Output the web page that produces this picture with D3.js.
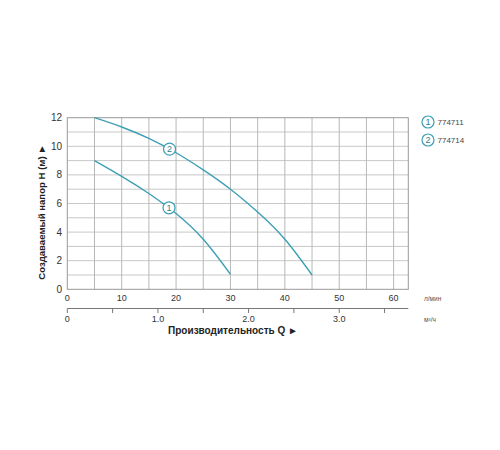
<!DOCTYPE html>
<html>
<head>
<meta charset="utf-8">
<script src="https://d3js.org/d3.v7.min.js"></script>
<style>
body { margin: 0; background: #fff; }
svg text { font-family: "Liberation Sans", Arial, sans-serif; }
</style>
</head>
<body>
<svg width="500" height="450"></svg>
<script>
// flow l/min , head m
var pump1Q = [5, 10, 15, 20, 25, 30];
var pump1H = [9, 7.9, 6.7, 5.3, 3.5, 1.05];
var pump2Q = [5, 10, 15, 20, 25, 30, 35, 40, 45];
var pump2H = [12, 11.35, 10.55, 9.55, 8.35, 7.0, 5.4, 3.5, 1.0];
var models = ["774711", "774714"];
var labelQ = [18.7, 18.8];
var labelH = [5.7, 9.8];
var xTicks = [0, 10, 20, 30, 40, 50, 60];
var yTicks = [0, 2, 4, 6, 8, 10, 12];
var m3Ticks = [0, 0.5, 1.0, 1.5, 2.0, 2.5, 3.0, 3.5];
var m3Labels = ["0", "1.0", "2.0", "3.0"];

var teal = "#3d9fb3";
var svg = d3.select("svg");

var x = d3.scaleLinear().domain([0, 62.7]).range([67.3, 408.3]);
var y = d3.scaleLinear().domain([0, 12]).range([289.3, 117.7]);
var xm3 = d3.scaleLinear().domain([0, 62.7 / 16.667]).range([67.3, 408.3]);

// grid
svg.append("g").selectAll("line").data(d3.range(1, 12))
  .join("line")
  .attr("x1", x(0)).attr("x2", x(62.7))
  .attr("y1", d => y(d)).attr("y2", d => y(d))
  .attr("stroke", "#c8c8c8").attr("stroke-width", 1);
svg.append("g").selectAll("line").data(d3.range(5, 62, 5))
  .join("line")
  .attr("x1", d => x(d)).attr("x2", d => x(d))
  .attr("y1", y(0)).attr("y2", y(12))
  .attr("stroke", "#b8b8b8").attr("stroke-width", 1);
svg.append("rect")
  .attr("x", x(0)).attr("y", y(12))
  .attr("width", x(62.7) - x(0)).attr("height", y(0) - y(12))
  .attr("fill", "none").attr("stroke", "#999").attr("stroke-width", 1);

// y tick labels
svg.append("g").selectAll("text").data(yTicks)
  .join("text")
  .attr("x", 62).attr("y", d => y(d) + 3.5)
  .attr("text-anchor", "end").attr("font-size", 10).attr("fill", "#333")
  .text(d => d);

// x tick labels (l/min)
svg.append("g").selectAll("text").data(xTicks)
  .join("text")
  .attr("x", d => x(d)).attr("y", 301)
  .attr("text-anchor", "middle").attr("font-size", 9).attr("fill", "#333")
  .text(d => d);
svg.append("text").attr("x", 424).attr("y", 301)
  .attr("font-size", 6.5).attr("fill", "#555").text("л/мин");

// second axis m3/h
var ax2 = svg.append("g");
ax2.append("line")
  .attr("x1", xm3(0)).attr("x2", x(62.7))
  .attr("y1", 308.5).attr("y2", 308.5)
  .attr("stroke", "#777");
ax2.selectAll(".tk").data(m3Ticks)
  .join("line")
  .attr("x1", d => xm3(d)).attr("x2", d => xm3(d))
  .attr("y1", 308.5).attr("y2", 313)
  .attr("stroke", "#777");
ax2.selectAll("text").data(m3Labels)
  .join("text")
  .attr("x", d => xm3(+d)).attr("y", 322)
  .attr("text-anchor", "middle").attr("font-size", 9).attr("fill", "#333")
  .text(d => d);
svg.append("text").attr("x", 424).attr("y", 322)
  .attr("font-size", 6.5).attr("fill", "#555").text("м³/ч");

// axis titles
svg.append("text")
  .attr("x", 233).attr("y", 334)
  .attr("text-anchor", "middle").attr("font-size", 10).attr("font-weight", "bold")
  .attr("fill", "#222").text("Производительность Q ►");
svg.append("text")
  .attr("transform", "translate(45,212) rotate(-90)")
  .attr("text-anchor", "middle").attr("font-size", 9.6).attr("font-weight", "bold")
  .attr("fill", "#222").text("Создаваемый напор Н (м) ►");

// curves
var line = d3.line().x(d => x(d[0])).y(d => y(d[1])).curve(d3.curveNatural);
[d3.zip(pump1Q, pump1H), d3.zip(pump2Q, pump2H)].forEach(function (pts) {
  svg.append("path").datum(pts)
    .attr("d", line)
    .attr("fill", "none").attr("stroke", teal).attr("stroke-width", 1.4);
});

// curve markers
models.forEach(function (m, i) {
  var g = svg.append("g").attr("transform", "translate(" + x(labelQ[i]) + "," + y(labelH[i]) + ")");
  g.append("circle").attr("r", 6).attr("fill", "#fff").attr("stroke", teal).attr("stroke-width", 1.2);
  g.append("text").attr("y", 3.2).attr("text-anchor", "middle")
    .attr("font-size", 9).attr("fill", "#2f7f8f").text(i + 1);
});

// legend
models.forEach(function (m, i) {
  var g = svg.append("g").attr("transform", "translate(428," + (122 + i * 18) + ")");
  g.append("circle").attr("r", 6).attr("fill", "#fff").attr("stroke", teal).attr("stroke-width", 1.2);
  g.append("text").attr("y", 3.2).attr("text-anchor", "middle")
    .attr("font-size", 9).attr("fill", "#2f7f8f").text(i + 1);
  g.append("text").attr("x", 9.5).attr("y", 3)
    .attr("font-size", 8).attr("fill", "#444").text(m);
});
</script>
</body>
</html>
